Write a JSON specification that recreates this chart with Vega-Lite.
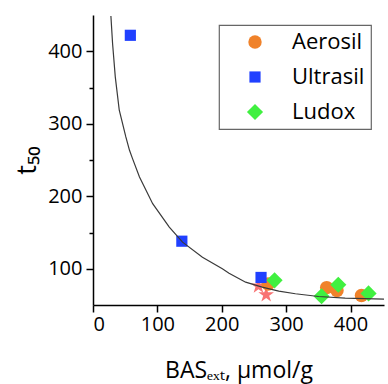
{
  "$schema": "https://vega.github.io/schema/vega-lite/v6.json",
  "width": 291,
  "height": 290,
  "autosize": "none",
  "padding": {"left": 93, "top": 15, "right": 4, "bottom": 79},
  "background": "white",
  "config": {
    "view": {"stroke": null},
    "font": "Open Sans",
    "axis": {
      "grid": false,
      "domainColor": "#000",
      "domainWidth": 1.5,
      "tickColor": "#000",
      "tickWidth": 1.5,
      "labelFont": "Open Sans",
      "labelFontSize": 20,
      "labelColor": "#000",
      "titleFont": "Open Sans",
      "titleColor": "#000",
      "titleFontWeight": "normal"
    },
    "legend": {
      "orient": "none",
      "legendX": 126,
      "legendY": 10,
      "strokeColor": "#666",
      "strokeWidth": 1.2,
      "padding": 6,
      "labelFont": "Open Sans",
      "labelFontSize": 22,
      "labelColor": "#000",
      "rowPadding": 13,
      "symbolOffset": 19,
      "labelOffset": 26
    }
  },
  "datasets": {
    "pts": [
      {"material": "Aerosil", "bas": 272, "t50": 79},
      {"material": "Aerosil", "bas": 363, "t50": 74},
      {"material": "Aerosil", "bas": 379, "t50": 70},
      {"material": "Aerosil", "bas": 417, "t50": 63},
      {"material": "Ultrasil", "bas": 58, "t50": 422},
      {"material": "Ultrasil", "bas": 138, "t50": 138},
      {"material": "Ultrasil", "bas": 261, "t50": 88},
      {"material": "Ludox", "bas": 282, "t50": 84},
      {"material": "Ludox", "bas": 355, "t50": 62},
      {"material": "Ludox", "bas": 381, "t50": 78},
      {"material": "Ludox", "bas": 428, "t50": 66}
    ],
    "stars": [
      {"bas": 257, "t50": 76},
      {"bas": 269, "t50": 64}
    ],
    "fit": [
      {"bas": 27.8, "t50": 448.5},
      {"bas": 30.4, "t50": 410.8},
      {"bas": 34.6, "t50": 364.6},
      {"bas": 40.8, "t50": 318.6},
      {"bas": 51.0, "t50": 281.8},
      {"bas": 56.7, "t50": 263.4},
      {"bas": 61.4, "t50": 251.9},
      {"bas": 72.2, "t50": 226.5},
      {"bas": 92.7, "t50": 189.8},
      {"bas": 118.5, "t50": 157.5},
      {"bas": 139.1, "t50": 136.7},
      {"bas": 170.0, "t50": 116.0},
      {"bas": 200.9, "t50": 100.0},
      {"bas": 211.3, "t50": 93.9},
      {"bas": 237.1, "t50": 81.5},
      {"bas": 262.8, "t50": 74.6},
      {"bas": 288.6, "t50": 69.1},
      {"bas": 314.4, "t50": 65.5},
      {"bas": 350.4, "t50": 61.7},
      {"bas": 391.7, "t50": 59.4},
      {"bas": 453.0, "t50": 58.0}
    ]
  },
  "layer": [
    {
      "data": {"name": "stars"},
      "mark": {
        "type": "point",
        "filled": true,
        "opacity": 1,
        "size": 270,
        "color": "#F87272",
        "shape": "M0,-1L0.2245,-0.309L0.951,-0.309L0.363,0.118L0.588,0.809L0,0.382L-0.588,0.809L-0.363,0.118L-0.951,-0.309L-0.2245,-0.309Z"
      },
      "encoding": {
        "x": {
          "field": "bas",
          "type": "quantitative",
          "scale": {"domain": [0, 452], "nice": false, "zero": false},
          "axis": {
            "values": [0, 50, 100, 150, 200, 250, 300, 350, 400, 450],
            "labelExpr": "datum.value % 100 === 0 ? datum.label : ''",
            "tickSize": {"condition": {"test": "datum.value % 100 === 0", "value": 7}, "value": 4},
            "labelPadding": 2,
            "title": "BASₑₓₜ, μmol/g",
            "titleFontSize": 23,
            "titlePadding": 25
          }
        },
        "y": {
          "field": "t50",
          "type": "quantitative",
          "scale": {"domain": [50, 450], "nice": false, "zero": false},
          "axis": {
            "values": [100, 150, 200, 250, 300, 350, 400],
            "labelExpr": "datum.value % 100 === 0 ? datum.label : ''",
            "tickSize": {"condition": {"test": "datum.value % 100 === 0", "value": 7}, "value": 4},
            "labelPadding": 4,
            "title": "t₅₀",
            "titleFontSize": 27,
            "titlePadding": 6
          }
        }
      }
    },
    {
      "data": {"name": "pts"},
      "mark": {"type": "point", "filled": true, "opacity": 1},
      "encoding": {
        "x": {"field": "bas", "type": "quantitative"},
        "y": {"field": "t50", "type": "quantitative"},
        "color": {
          "field": "material",
          "type": "nominal",
          "scale": {"domain": ["Aerosil", "Ultrasil", "Ludox"], "range": ["#F0822A", "#2040FF", "#40F040"]},
          "legend": {"title": null}
        },
        "shape": {
          "field": "material",
          "type": "nominal",
          "scale": {"domain": ["Aerosil", "Ultrasil", "Ludox"], "range": ["circle", "square", "diamond"]},
          "legend": {"title": null}
        },
        "size": {
          "field": "material",
          "type": "nominal",
          "scale": {"type": "ordinal", "domain": ["Aerosil", "Ultrasil", "Ludox"], "range": [180, 125, 260]},
          "legend": {"title": null}
        }
      }
    },
    {
      "data": {"name": "fit"},
      "mark": {"type": "line", "color": "#3a3a3a", "strokeWidth": 1.2, "clip": true},
      "encoding": {
        "x": {"field": "bas", "type": "quantitative"},
        "y": {"field": "t50", "type": "quantitative"}
      }
    }
  ]
}
